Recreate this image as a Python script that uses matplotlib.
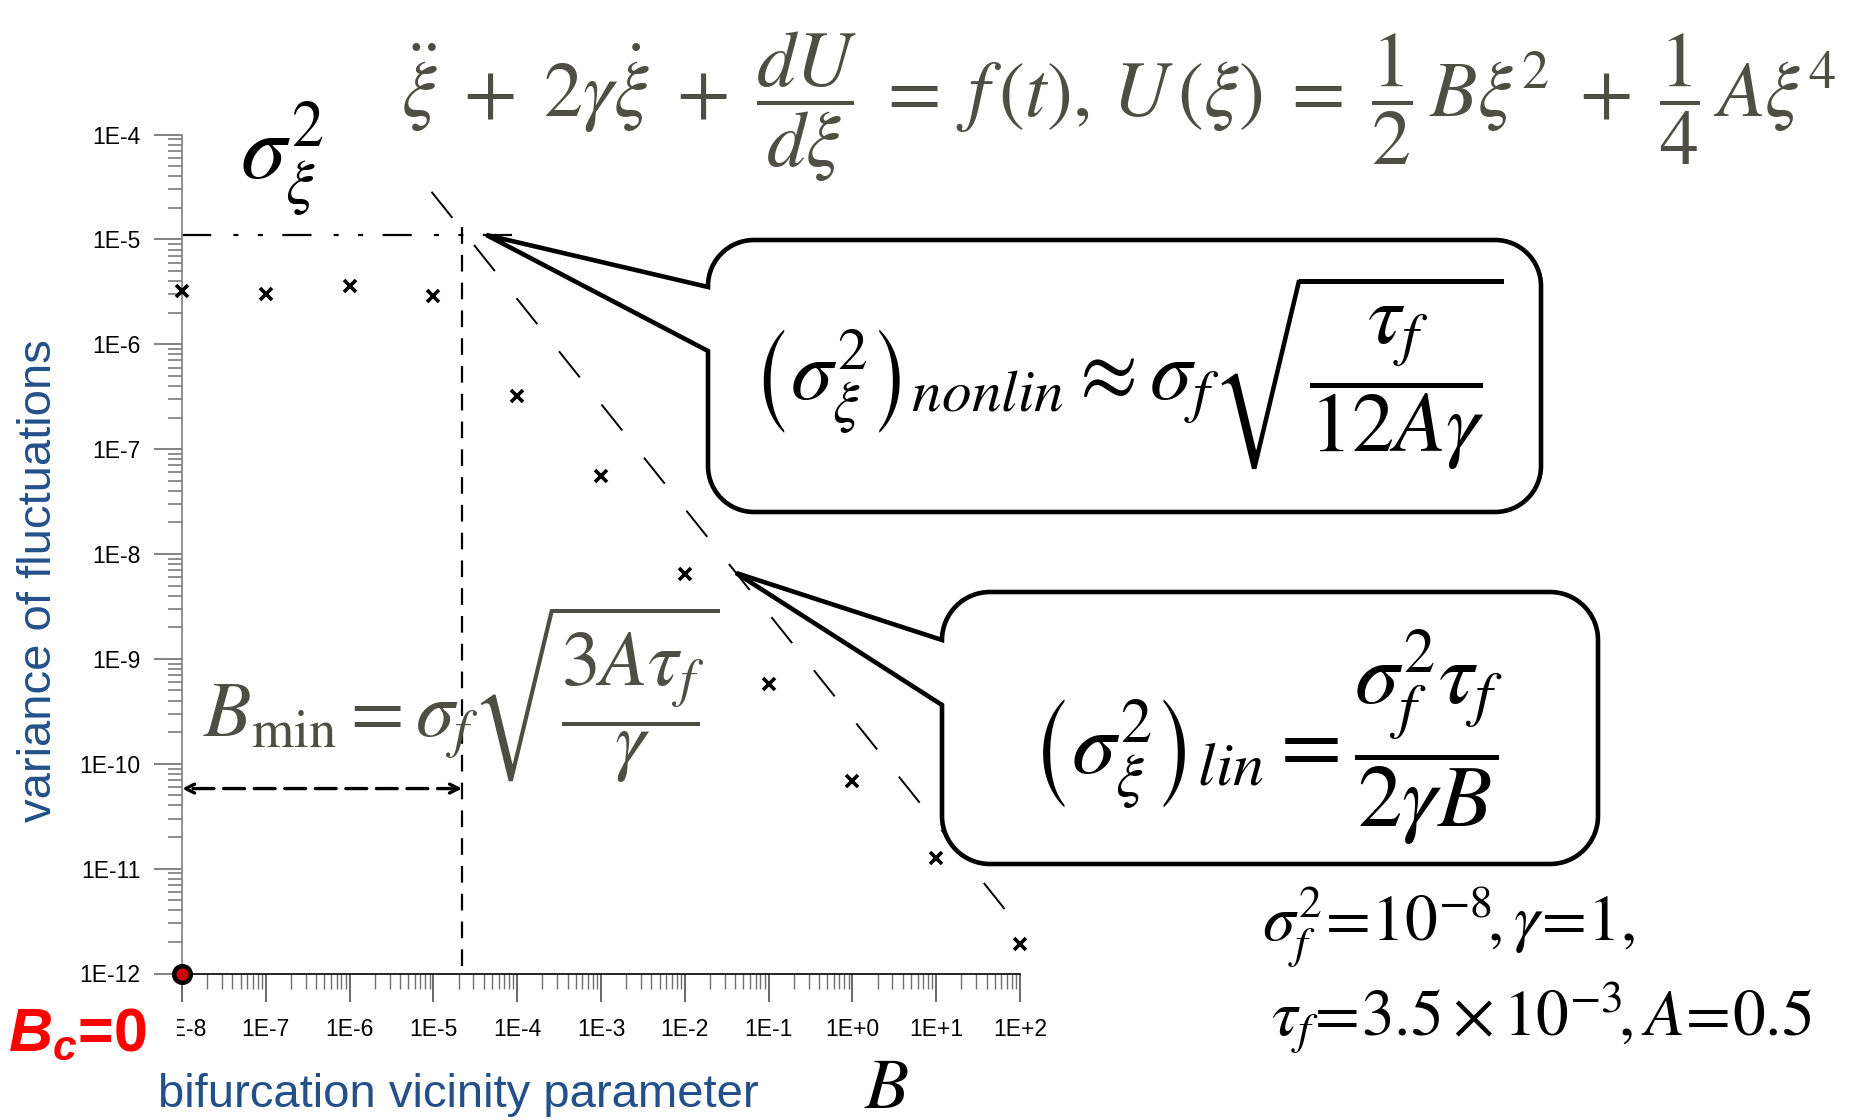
import numpy as np
import matplotlib
import matplotlib.pyplot as plt
from matplotlib.path import Path
from matplotlib.patches import PathPatch, Rectangle
from matplotlib.ticker import LogLocator, FuncFormatter, NullFormatter

plt.rcParams['mathtext.fontset'] = 'stix'
plt.rcParams['lines.scale_dashes'] = False
# bold italic sans for the B_c label
plt.rcParams['mathtext.it'] = 'Liberation Sans:bold:italic'
plt.rcParams['mathtext.rm'] = 'Liberation Sans:bold'
plt.rcParams['mathtext.bf'] = 'Liberation Sans:bold'

# simulated variance of xi vs bifurcation parameter B
B_vals = [1e-8, 1e-7, 1e-6, 1e-5, 1e-4, 1e-3, 1e-2, 1e-1, 1e0, 1e1, 1e2]
var_vals = [3.2e-6, 3.0e-6, 3.6e-6, 2.9e-6, 3.2e-7, 5.6e-8, 6.5e-9,
            5.8e-10, 6.9e-11, 1.26e-11, 1.9e-12]

# linear asymptote var = lin_coef / B
lin_coef = 2.7e-10
lin_B = [9.5e-6, 1.0e2]

# nonlinear plateau, B_min marker and the B_min arrow
plateau_var = 1.1e-5
plateau_B = [1e-8, 1e-4]
B_min = 2.2e-5
bmin_var = [1.17e-12, 1.35e-5]
arrow_var = 5.8e-11

# where the two callouts point
tip_nonlin = (4.3e-5, plateau_var)
tip_lin_B = 0.041

W, H = 1866, 1120
fig = plt.figure(figsize=(W / 100, H / 100), dpi=100)


def fx(px):
    return px / W


def fy(py):
    return 1 - py / H


ax = fig.add_axes([fx(182), fy(973.5), fx(1020) - fx(182), fy(134.5) - fy(973.5)])
ax.set_xscale('log')
ax.set_yscale('log')
ax.set_xlim(1e-8, 1e2)
ax.set_ylim(1e-12, 1e-4)

for s in ['top', 'right']:
    ax.spines[s].set_visible(False)
ax.spines['left'].set_color('#808080')
ax.spines['left'].set_linewidth(1.2)
ax.spines['bottom'].set_color('black')
ax.spines['bottom'].set_linewidth(1.2)

ax.xaxis.set_major_locator(LogLocator(base=10, numticks=100))
ax.yaxis.set_major_locator(LogLocator(base=10, numticks=100))
ax.xaxis.set_minor_locator(LogLocator(base=10, subs=np.arange(2, 10), numticks=100))
ax.yaxis.set_minor_locator(LogLocator(base=10, subs=np.arange(2, 10), numticks=100))
fmt = FuncFormatter(lambda v, p: '1E%+d' % int(round(np.log10(v))))
ax.xaxis.set_major_formatter(fmt)
ax.yaxis.set_major_formatter(fmt)
ax.xaxis.set_minor_formatter(NullFormatter())
ax.yaxis.set_minor_formatter(NullFormatter())

ax.tick_params(axis='y', which='major', direction='out', length=20, width=1.1,
               color='#606060', pad=10, labelsize=16.5)
ax.tick_params(axis='y', which='minor', direction='out', length=10, width=1.1,
               color='#707070')
ax.tick_params(axis='x', which='major', direction='out', length=20, width=1.1,
               color='#404040', pad=12, labelsize=16.5)
ax.tick_params(axis='x', which='minor', direction='out', length=11, width=1.0,
               color='#707070')
for lab in ax.get_xticklabels() + ax.get_yticklabels():
    lab.set_fontfamily('Liberation Sans')

# asymptotes and guide lines
lin_x = np.array(lin_B)
ax.plot(lin_x, lin_coef / lin_x, color='black', lw=1.4, dashes=(24, 25))
ax.plot(plateau_B, [plateau_var, plateau_var], color='black', lw=1.6,
        dashes=(21, 16, 3.6, 14, 3.6, 14))
ax.plot([B_min, B_min], bmin_var, color='black', lw=1.6, dashes=(12, 8))
ax.annotate('', xy=(1e-8, arrow_var), xytext=(B_min, arrow_var),
            arrowprops=dict(arrowstyle='<->', lw=2.4, linestyle=(0, (15, 7)),
                            shrinkA=0, shrinkB=0, mutation_scale=16, color='black'),
            annotation_clip=False)

ax.plot(B_vals, var_vals, 'x', color='black', ms=9, mew=2.6, clip_on=False, zorder=5)
ax.plot([1e-8], [1e-12], 'o', ms=12, mfc='#CC0000', mec='black', mew=3.2,
        clip_on=False, zorder=10)


def callout(tip, x0, y0, x1, y1, a1, a2, r):
    # speech bubble: rounded box (pixel coords, y down) with a wedge to tip
    disp = ax.transData.transform(tip)
    tx, ty = fig.transFigure.inverted().transform(disp)
    k = 0.552 * r
    pts = [
        (None, (tx, ty), Path.MOVETO),
        ((x0, a2), None, Path.LINETO),
        ((x0, y1 - r), None, Path.LINETO),
        ((x0, y1 - r + k), None, Path.CURVE4),
        ((x0 + r - k, y1), None, Path.CURVE4),
        ((x0 + r, y1), None, Path.CURVE4),
        ((x1 - r, y1), None, Path.LINETO),
        ((x1 - r + k, y1), None, Path.CURVE4),
        ((x1, y1 - r + k), None, Path.CURVE4),
        ((x1, y1 - r), None, Path.CURVE4),
        ((x1, y0 + r), None, Path.LINETO),
        ((x1, y0 + r - k), None, Path.CURVE4),
        ((x1 - r + k, y0), None, Path.CURVE4),
        ((x1 - r, y0), None, Path.CURVE4),
        ((x0 + r, y0), None, Path.LINETO),
        ((x0 + r - k, y0), None, Path.CURVE4),
        ((x0, y0 + r - k), None, Path.CURVE4),
        ((x0, y0 + r), None, Path.CURVE4),
        ((x0, a1), None, Path.LINETO),
        (None, (tx, ty), Path.CLOSEPOLY),
    ]
    verts, codes = [], []
    for p, f, c in pts:
        verts.append(f if p is None else (fx(p[0]), fy(p[1])))
        codes.append(c)
    patch = PathPatch(Path(verts, codes), transform=fig.transFigure, fc='white',
                      ec='black', lw=3.3, joinstyle='miter', zorder=3)
    fig.add_artist(patch)


callout(tip_nonlin, 708, 240, 1541, 512, 287, 351, 46)
callout((tip_lin_B, lin_coef / tip_lin_B), 942, 592, 1598, 864, 640, 705, 48)

eq_gray = '#4E4E44'
fig.text(fx(1119), fy(107),
         r'$\ddot{\xi}\;+\;2\gamma\dot{\xi}\;+\;\dfrac{dU}{d\xi}\;=\;f\,(t),\, U\,(\xi)\;=\;'
         r'\dfrac{1}{2}\,B\xi^{2}\;+\;\dfrac{1}{4}\,A\xi^{4}$',
         fontsize=56, color=eq_gray, ha='center', va='center', zorder=4)
fig.text(fx(282), fy(160), r'$\sigma_{\xi}^{2}$', fontsize=66, color='black',
         ha='center', va='center', zorder=4)
fig.text(fx(1127), fy(372),
         r'$\left(\sigma_{\xi}^{2}\right)_{nonlin} \approx \sigma_{f}\sqrt{\dfrac{\tau_{f}}{12A\gamma}}$',
         fontsize=61, color='black', ha='center', va='center', zorder=4)
fig.text(fx(1267), fy(738),
         r'$\left(\sigma_{\xi}^{2}\right)_{lin} = \dfrac{\sigma_{f}^{2}\tau_{f}}{2\gamma B}$',
         fontsize=64, color='black', ha='center', va='center', zorder=4)
fig.text(fx(461), fy(695),
         r'$B_{\min} = \sigma_{f}\sqrt{\dfrac{3A\tau_{f}}{\gamma}}$',
         fontsize=56, color=eq_gray, ha='center', va='center', zorder=4)
fig.text(fx(1262), fy(928), r'$\sigma_{f}^{2}\!=\!10^{-8}\!,\gamma\!=\!1,$',
         fontsize=47, color='black', ha='left', va='center', zorder=4)
fig.text(fx(1271), fy(1018), r'$\tau_{f}\!=\!3.5\times 10^{-3}\!,A\!=\!0.5$',
         fontsize=47, color='black', ha='left', va='center', zorder=4)
fig.text(fx(887), fy(1089), r'$B$', fontsize=52, color='black',
         ha='center', va='center', zorder=4)

# axis titles
axis_blue = '#24508A'
fig.text(fx(39), fy(581), 'variance of fluctuations', rotation=90, fontsize=34,
         color=axis_blue, fontfamily='Liberation Sans', ha='center', va='center')
fig.text(fx(458), fy(1095), 'bifurcation vicinity parameter', fontsize=34,
         color=axis_blue, fontfamily='Liberation Sans', ha='center', va='center')

# critical point label
fig.add_artist(Rectangle((0, fy(1052)), fx(177), fy(1010) - fy(1052),
                         transform=fig.transFigure, fc='white', ec='none', zorder=5))
fig.text(fx(8), fy(1035), r'$B_c$=0', fontsize=44, color='#FF0000', fontweight='bold',
         fontfamily='Liberation Sans', math_fontfamily='custom',
         ha='left', va='center', zorder=6)

fig.savefig('out.png', dpi=100)
